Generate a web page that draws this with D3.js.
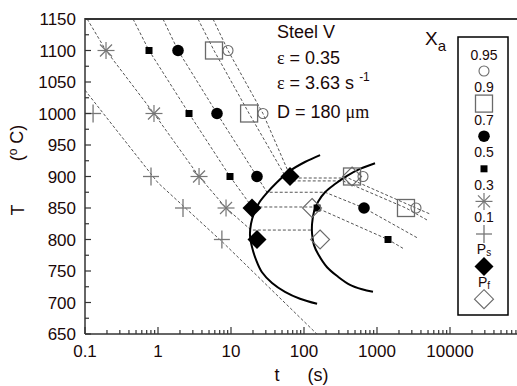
<!DOCTYPE html>
<html><head><meta charset="utf-8">
<script src="https://cdn.jsdelivr.net/npm/d3@7"></script>
<style>body{margin:0;background:#fff}</style>
</head><body><svg id="c" width="517" height="386"></svg>
<script>
// ---------- data ----------
const xTicks = [0.1, 1, 10, 100, 1000, 10000];
const xTickLabels = ["0.1", "1", "10", "100", "1000", "10000"];
const yTicks = [650, 700, 750, 800, 850, 900, 950, 1000, 1050, 1100, 1150];
const legendLabels = ["0.95", "0.9", "0.7", "0.5", "0.3", "0.1", "Ps", "Pf"];
const legendTypes = ["ocircle", "osquare", "fcircle", "fsquare", "aster", "plus", "fdiamond", "odiamond"];

// points [t (s), T (°C)]
const xa095 = [[9.1,1100],[27.4,1000],[643,900],[3420,850]];
const xa09  = [[5.85,1100],[17.7,1000],[455,900],[2495,850]];
const xa07  = [[1.88,1100],[6.43,1000],[22.7,900],[664,850]];
const xa05  = [[0.753,1100],[2.66,1000],[9.69,900],[151,850],[1416,800]];
const xa03  = [[0.194,1100],[0.881,1000],[3.65,900],[8.55,850]];
const xa01  = [[0.129,1000],[0.802,900],[2.2,850],[7.5,800]];
const psPts = [[64.3,900],[19.4,850],[22.7,800]];
const pfPts = [[455,900],[129,850],[166,800]];

// iso-Xa dashed lines
const line095 = [[5.67,1150],[9.1,1100],[27.4,1000],[66.4,897.6],[401,897.6],[3420,850],[5320,840.5]];
const line09  = [[3.53,1150],[5.85,1100],[17.7,1000],[60.4,893],[342,893],[2495,850],[4840,831]];
const line07  = [[1.17,1150],[1.88,1100],[6.43,1000],[22.7,900],[31.1,875],[194,875],[664,850],[3650,802]];
const line05  = [[0.455,1150],[0.753,1100],[2.66,1000],[9.69,900],[19.4,851.6],[129,851.6],[151,850],[1416,800],[2270,786]];
const line03  = [[0.107,1150],[0.194,1100],[0.881,1000],[3.65,900],[8.55,850],[18.8,815],[129,815]];
const line01  = [[0.1,1037],[1.0,890],[7.8,795],[150,650]];

// precipitation start / finish curves
const psCurve = [[166,934],[103,923],[64.3,909],[42.7,891],[31.1,874],[24.2,858],[20.7,842],[18.8,825],[18.2,807],[19.4,788],[22.0,768],[26.6,748],[36.5,731],[54.9,717],[88.1,706],[151,698]];
const pfCurve = [[940,921],[585,912],[388,901],[266,888],[194,875],[156,860],[137,844],[129,825],[129,809],[137,791],[156,777],[207,756],[292,741],[427,728],[624,721],[881,717]];

// ---------- drawing ----------
const svg = d3.select("#c");
const SANS = "Arial, 'Liberation Sans', sans-serif";
const SERIF = "'Times New Roman', 'Liberation Serif', serif";
const TXT = "#1a0808";
const L = 85, R = 523, T0 = 19, B = 334;
const x = d3.scaleLog().domain([0.1, 1e5]).range([L, R]);
const y = d3.scaleLinear().domain([650, 1150]).range([B, T0]);

svg.append("rect").attr("width",517).attr("height",386).attr("fill","#fff");
svg.append("defs").append("clipPath").attr("id","clip")
  .append("rect").attr("x",L).attr("y",T0).attr("width",R-L).attr("height",B-T0);

const plot = svg.append("g").attr("clip-path","url(#clip)");
const lg = d3.line().x(d=>x(d[0])).y(d=>y(d[1]));
[line095, line09, line07, line05, line03, line01].forEach(l => {
  plot.append("path").attr("d", lg(l)).attr("fill","none")
    .attr("stroke","#555").attr("stroke-width",1).attr("stroke-dasharray","3,2");
});
const cg = d3.line().x(d=>x(d[0])).y(d=>y(d[1])).curve(d3.curveCatmullRom);
[psCurve, pfCurve].forEach(c => {
  plot.append("path").attr("d", cg(c)).attr("fill","none")
    .attr("stroke","#000").attr("stroke-width",2);
});

function marker(g, type, cx, cy) {
  const gray = "#6a6a6a";
  if (type === "ocircle") g.append("circle").attr("cx",cx).attr("cy",cy).attr("r",5)
      .attr("fill","none").attr("stroke",gray).attr("stroke-width",1.1);
  else if (type === "osquare") g.append("rect").attr("x",cx-8.5).attr("y",cy-8.5).attr("width",17).attr("height",17)
      .attr("fill","none").attr("stroke",gray).attr("stroke-width",1.3);
  else if (type === "fcircle") g.append("circle").attr("cx",cx).attr("cy",cy).attr("r",5.8).attr("fill","#000");
  else if (type === "fsquare") g.append("rect").attr("x",cx-3.5).attr("y",cy-3.5).attr("width",7).attr("height",7).attr("fill","#000");
  else if (type === "aster") {
    const r = 8.5, d = 6;
    [[-r,0,r,0],[0,-r,0,r],[-d,-d,d,d],[-d,d,d,-d]].forEach(s =>
      g.append("line").attr("x1",cx+s[0]).attr("y1",cy+s[1]).attr("x2",cx+s[2]).attr("y2",cy+s[3])
        .attr("stroke","#777").attr("stroke-width",1.2));
  } else if (type === "plus") {
    g.append("line").attr("x1",cx-8).attr("y1",cy).attr("x2",cx+8).attr("y2",cy).attr("stroke","#777").attr("stroke-width",1.3);
    g.append("line").attr("x1",cx).attr("y1",cy-9).attr("x2",cx).attr("y2",cy+9).attr("stroke","#777").attr("stroke-width",1.3);
  } else if (type === "fdiamond" || type === "odiamond") {
    const h = 9.5;
    const p = g.append("path").attr("d",`M${cx},${cy-h}L${cx+h},${cy}L${cx},${cy+h}L${cx-h},${cy}Z`);
    if (type === "fdiamond") p.attr("fill","#000");
    else p.attr("fill","none").attr("stroke",gray).attr("stroke-width",1.1);
  }
}

const mg = svg.append("g");
const series = [[xa01,"plus"],[xa03,"aster"],[xa05,"fsquare"],[xa07,"fcircle"],[psPts,"fdiamond"],[xa09,"osquare"],[pfPts,"odiamond"],[xa095,"ocircle"]];
series.forEach(([pts, type]) => pts.forEach(p => marker(mg, type, x(p[0]), y(p[1]))));

// axes frame
svg.append("line").attr("x1",L).attr("y1",T0).attr("x2",517).attr("y2",T0).attr("stroke","#333").attr("stroke-width",2);
svg.append("line").attr("x1",L).attr("y1",T0-1).attr("x2",L).attr("y2",B).attr("stroke","#333").attr("stroke-width",1.5);
svg.append("line").attr("x1",L).attr("y1",B).attr("x2",517).attr("y2",B).attr("stroke","#333").attr("stroke-width",1.5);

// x ticks
const ax = svg.append("g");
for (let e = -1; e <= 5; e++) {
  for (let m = 1; m <= 9; m++) {
    const v = m * Math.pow(10, e);
    const px = x(v);
    if (px > 517) continue;
    ax.append("line").attr("x1",px).attr("x2",px).attr("y1",B).attr("y2",B-(m===1?7:4))
      .attr("stroke","#333").attr("stroke-width",1.2);
  }
}
xTicks.forEach((v,i) => ax.append("text").attr("x",x(v)).attr("y",B+23).attr("text-anchor","middle")
  .attr("font-family",SANS).attr("font-size",17).attr("fill",TXT).text(xTickLabels[i]));

// y ticks
for (let v = 650; v <= 1150; v += 25) {
  const major = v % 50 === 0;
  ax.append("line").attr("x1",L).attr("x2",L+(major?6:4)).attr("y1",y(v)).attr("y2",y(v))
    .attr("stroke","#333").attr("stroke-width",1.2);
}
yTicks.forEach(v => ax.append("text").attr("x",L-9).attr("y",y(v)+6).attr("text-anchor","end")
  .attr("font-family",SANS).attr("font-size",17).attr("fill",TXT).text(v));

// axis titles
svg.append("text").attr("x",277).attr("y",381).attr("text-anchor","middle").attr("font-family",SANS)
  .attr("font-size",18).attr("fill",TXT).text("t");
svg.append("text").attr("x",318).attr("y",381).attr("text-anchor","middle").attr("font-family",SANS)
  .attr("font-size",18).attr("fill",TXT).text("(s)");
svg.append("text").attr("transform","translate(24,210) rotate(-90)").attr("text-anchor","middle")
  .attr("font-family",SANS).attr("font-size",18).attr("fill",TXT).text("T");
const yt = svg.append("text").attr("transform","translate(23,143) rotate(-90)").attr("text-anchor","middle")
  .attr("font-family",SANS).attr("font-size",18).attr("fill",TXT);
yt.append("tspan").text("(");
yt.append("tspan").attr("font-size",12).attr("dy",-6).text("o");
yt.append("tspan").attr("dy",6).text(" C)");

// annotations
const ann = svg.append("g").attr("font-family",SANS).attr("font-size",18).attr("fill",TXT);
ann.append("text").attr("x",277).attr("y",38).text("Steel V");
const a1 = ann.append("text").attr("x",277).attr("y",64);
a1.append("tspan").attr("font-family",SERIF).text("ε");
a1.append("tspan").text(" = 0.35");
const a2 = ann.append("text").attr("x",277).attr("y",89);
a2.append("tspan").attr("font-family",SERIF).text("ε");
a2.append("tspan").text(" = 3.63 s ");
a2.append("tspan").attr("font-size",12).attr("dy",-8).text("-1");
const a3 = ann.append("text").attr("x",277).attr("y",118);
a3.append("tspan").text("D = 180 ");
a3.append("tspan").attr("font-family",SERIF).text("μm");

// Xa label
const xal = svg.append("text").attr("x",425).attr("y",45).attr("font-family",SANS).attr("font-size",19).attr("fill",TXT);
xal.append("tspan").text("X");
xal.append("tspan").attr("font-size",15).attr("dy",6).text("a");

// legend
svg.append("rect").attr("x",458).attr("y",37).attr("width",50).attr("height",278)
  .attr("fill","#fff").attr("stroke","#000").attr("stroke-width",1.5);
const lgG = svg.append("g");
legendLabels.forEach((lab, i) => {
  const ly = 60 + i*32.4, my = 71 + i*32.6;
  marker(lgG, legendTypes[i], 484, my);
  const t = lgG.append("text").attr("x",484).attr("y",ly).attr("text-anchor","middle")
    .attr("font-family",SANS).attr("font-size",14).attr("fill",TXT);
  if (lab[0] === "P") {
    t.append("tspan").text("P");
    t.append("tspan").attr("font-size",10).attr("dy",2).text(lab.slice(1));
  } else t.text(lab);
});
</script>
</body></html>
